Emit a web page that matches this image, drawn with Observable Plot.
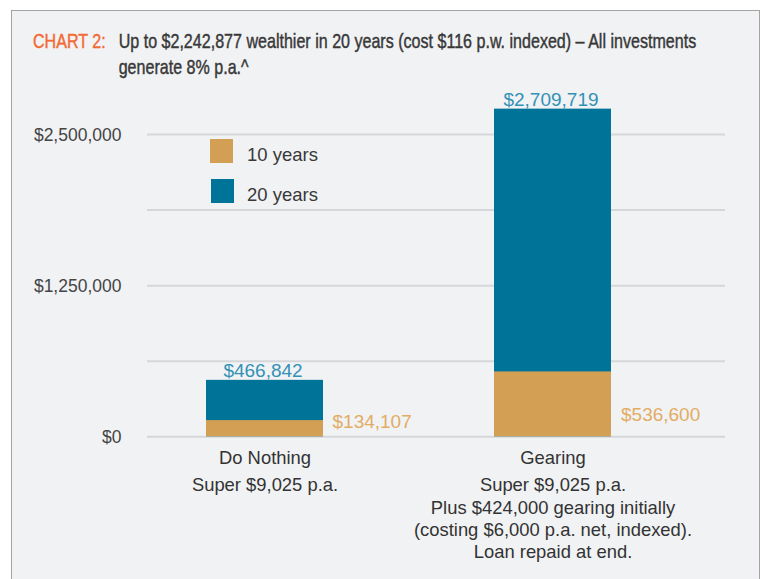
<!DOCTYPE html>
<html>
<head>
<meta charset="utf-8">
<script src="https://cdn.jsdelivr.net/npm/d3@7"></script>
<script src="https://cdn.jsdelivr.net/npm/@observablehq/plot@0.6"></script>
<style>
  html, body { margin: 0; padding: 0; background: #ffffff; }
  body { width: 766px; height: 579px; position: relative; overflow: hidden; font-family: "Liberation Sans", Arial, Helvetica, sans-serif; }
  #frame { position: absolute; left: 11px; top: 10px; width: 749px; height: 620px; background: #f1f2f4; border: 1.5px solid #a3a3a3; box-sizing: border-box; }
  #title { position: absolute; left: 33px; top: 28px; display: flex; font-family: "Liberation Sans", Arial, sans-serif; font-size: 21px; line-height: 26px; color: #383838; -webkit-text-stroke: 0.45px #383838; transform: scaleX(0.765); transform-origin: 0 0; white-space: nowrap; }
  #title .tag { color: #f26a35; -webkit-text-stroke: 0.45px #f26a35; width: 112px; flex: none; }
  #title .txt { width: 775px; white-space: normal; }
  #chart { position: absolute; left: 0; top: 90px; }
  #legend { position: absolute; left: 0; top: 0; font-size: 18.5px; color: #383838; }
  .sw { position: absolute; width: 23px; height: 24px; }
  .lt { position: absolute; line-height: 24px; white-space: nowrap; }
</style>
</head>
<body>
<div id="frame"></div>
<div id="title"><div class="tag">CHART 2:</div><div class="txt">Up to $2,242,877 wealthier in 20 years (cost $116 p.w. indexed) – All investments generate 8% p.a.^</div></div>
<div id="chart"></div>
<div id="legend"></div>
<script>
const categories = ["Do Nothing", "Gearing"];
const descriptions = [
  "Super $9,025 p.a.",
  "Super $9,025 p.a.\nPlus $424,000 gearing initially\n(costing $6,000 p.a. net, indexed).\nLoan repaid at end."
];
const tenYears = [134107, 536600];
const twentyYears = [466842, 2709719];
const yTicks = [0, 1250000, 2500000];
const gridLines = [0, 625000, 1250000, 1875000, 2500000];
const legendLabels = ["10 years", "20 years"];
const colors = { ten: "#d39f55", twenty: "#007398", tenText: "#e2ac64", twentyText: "#3391b6" };

const idx = categories.map((_, i) => i);
const fmt = d3.format("$,");

const plot = Plot.plot({
  width: 766,
  height: 489,
  marginLeft: 147,
  marginRight: 41,
  marginTop: 0,
  marginBottom: 0,
  style: { background: "transparent", fontFamily: "'Liberation Sans', Arial, Helvetica, sans-serif", overflow: "visible" },
  x: { type: "band", domain: categories, range: [119, 697], paddingInner: 0.595, paddingOuter: 0.2976, axis: null },
  y: { domain: [0, 2500000], range: [346.3, 44], axis: null },
  marks: [
    Plot.ruleY(gridLines, { stroke: "#d6d7da", strokeWidth: 2 }),
    Plot.barY(idx, { x: i => categories[i], y1: 0, y2: i => twentyYears[i], fill: colors.twenty }),
    Plot.barY(idx, { x: i => categories[i], y1: 0, y2: i => tenYears[i], fill: colors.ten }),
    Plot.axisY({ ticks: yTicks, tickFormat: fmt, tickSize: 0, tickPadding: 26, dy: 1, fontSize: 17.5, fill: "#444" }),
    Plot.text(idx, { x: i => categories[i], y: i => twentyYears[i], text: i => fmt(twentyYears[i]), dx: -2, dy: -9.5, fontSize: 19, fill: colors.twentyText }),
    Plot.text([0], { x: i => categories[i], y: i => tenYears[i], text: i => fmt(tenYears[i]), dx: 67.5, dy: 1.6, textAnchor: "start", fontSize: 19, fill: colors.tenText }),
    Plot.text([1], { x: i => categories[i], y: i => tenYears[i], text: i => fmt(tenYears[i]), dx: 68, dy: 42.6, textAnchor: "start", fontSize: 19, fill: colors.tenText }),
    Plot.text(idx, { x: i => categories[i], y: 0, text: i => categories[i], dy: 21.7, fontSize: 18.4, fill: "#333" }),
    Plot.text(idx, { x: i => categories[i], y: 0, text: i => descriptions[i], dy: 38.5, lineAnchor: "top", lineHeight: 1.215, fontSize: 18.4, fill: "#333" })
  ]
});
document.getElementById("chart").appendChild(plot);

// legend
const legend = document.getElementById("legend");
const legendColors = [colors.ten, colors.twenty];
const legendTops = [139, 178.5];
legendLabels.forEach((lab, i) => {
  const sw = document.createElement("div");
  sw.className = "sw";
  sw.style.left = (210 + i) + "px";
  sw.style.top = legendTops[i] + "px";
  sw.style.background = legendColors[i];
  legend.appendChild(sw);
  const t = document.createElement("div");
  t.className = "lt";
  t.style.left = "247px";
  t.style.top = (legendTops[i] + 4) + "px";
  t.textContent = lab;
  legend.appendChild(t);
});
</script>
</body>
</html>
